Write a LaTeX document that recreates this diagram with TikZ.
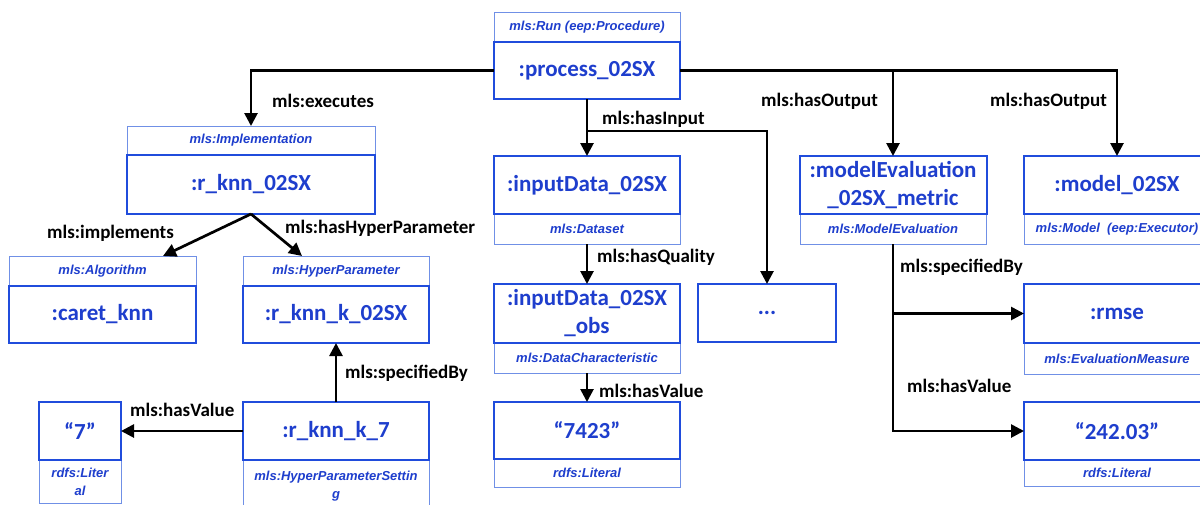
\documentclass[tikz,border=0pt]{standalone}
\usepackage{fontspec}
\setmainfont{Carlito}
\newfontfamily\typefont{Liberation Sans}
\usetikzlibrary{arrows.meta}
\definecolor{nodeblue}{RGB}{30,62,205}
\definecolor{edgeblue}{RGB}{32,76,220}
\definecolor{bandblue}{RGB}{112,144,230}

\begin{document}
\begin{tikzpicture}[x=1pt,y=-1pt,
  mainbox/.style={draw=edgeblue, line width=2pt, fill=white, inner sep=0pt, outer sep=0pt,
    text=nodeblue, font=\fontsize{23}{28}\selectfont\bfseries, align=center},
  typebox/.style={draw=bandblue, line width=1pt, fill=white, inner sep=0pt, outer sep=0pt,
    text=nodeblue, font=\typefont\fontsize{13}{18}\selectfont\bfseries\itshape, align=center},
  rel/.style={font=\fontsize{19}{21}\selectfont\bfseries, anchor=west, inner sep=0pt},
  arr/.style={line width=2.7pt, -{Triangle[length=13pt,width=13pt]}}
]
\useasboundingbox (0,0) rectangle (1200,504);
\clip (0,0) rectangle (1200,504);
\fill[white] (0,0) rectangle (1200,504);

% class bands
\node[typebox, minimum width=186pt, minimum height=30pt] (runT)  at (587,27) {mls:Run (eep:Procedure)};
\node[typebox, minimum width=248pt, minimum height=29pt] (implT) at (251,140.5) {mls:Implementation};
\node[typebox, minimum width=187pt, minimum height=30pt] (algT)  at (102.5,271) {mls:Algorithm};
\node[typebox, minimum width=186pt, minimum height=30pt] (hypT)  at (336,271) {mls:HyperParameter};
\node[typebox, minimum width=186pt, minimum height=52pt] (setT)  at (336,486) {mls:HyperParameterSettin\\g};
\node[typebox, minimum width=82pt,  minimum height=43pt] (sevT)  at (80,481.5) {rdfs:Liter\\al};
\node[typebox, minimum width=186pt, minimum height=30pt] (inpT)  at (587,229) {mls:Dataset};
\node[typebox, minimum width=186pt, minimum height=30pt] (obsT)  at (587,358) {mls:DataCharacteristic};
\node[typebox, minimum width=186pt, minimum height=28pt] (valT)  at (587,473) {rdfs:Literal};
\node[typebox, minimum width=186pt, minimum height=30pt] (meT)   at (893,229) {mls:ModelEvaluation};
\node[typebox, minimum width=186pt, minimum height=30pt] (modT)  at (1117,229) {mls:Model\ \ (eep:Executor)};
\node[typebox, minimum width=186pt, minimum height=31pt] (rmseT) at (1117,358.5) {mls:EvaluationMeasure};
\node[typebox, minimum width=186pt, minimum height=26pt] (numT)  at (1117,473) {rdfs:Literal};

% resources
\node[mainbox, minimum width=186pt, minimum height=57pt] (proc) at (587,70.5) {:process\_02SX};
\node[mainbox, minimum width=248pt, minimum height=59pt] (impl) at (251,184.5) {:r\_knn\_02SX};
\node[mainbox, minimum width=187pt, minimum height=57pt] (alg)  at (102.5,314.5) {:caret\_knn};
\node[mainbox, minimum width=186pt, minimum height=57pt] (hyp)  at (336,314.5) {:r\_knn\_k\_02SX};
\node[mainbox, minimum width=186pt, minimum height=58pt] (set)  at (336,431) {:r\_knn\_k\_7};
\node[mainbox, minimum width=82pt,  minimum height=58pt] (sev)  at (80,431) {“7”};
\node[mainbox, minimum width=186pt, minimum height=58pt] (inp)  at (587,185) {:inputData\_02SX};
\node[mainbox, minimum width=186pt, minimum height=59pt] (obs)  at (587,313.5) {:inputData\_02SX\\\_obs};
\node[mainbox, minimum width=186pt, minimum height=57pt] (val)  at (587,430.5) {“7423”};
\node[mainbox, minimum width=138pt, minimum height=58pt] (dots) at (767,313) {...};
\node[mainbox, minimum width=187pt, minimum height=58pt] (me)   at (893,185) {:modelEvaluation\\\_02SX\_metric};
\node[mainbox, minimum width=186pt, minimum height=58pt] (mod)  at (1117,185) {:model\_02SX};
\node[mainbox, minimum width=186pt, minimum height=59pt] (rmse) at (1117,313.5) {:rmse};
\node[mainbox, minimum width=186pt, minimum height=58pt] (num)  at (1117,431) {“242.03”};

% junction points
\coordinate (inFork) at (587,131);
\coordinate (outFork) at (893,70.5);
\coordinate (algIn) at (163,256);
\coordinate (hypIn) at (302,256);
\coordinate (specFork) at (893,313.5);

% connectors
\draw[arr] (proc.west) -| (implT.north);
\draw[arr] (proc.east) -| (mod.north);
\draw[arr] (outFork) -- (me.north);
\draw[arr] (proc.south) -- (inp.north);
\draw[arr] (inFork) -| (dots.north);
\draw[arr] (impl.south) -- (algIn);
\draw[arr] (impl.south) -- (hypIn);
\draw[arr] (set.north) -- (hyp.south);
\draw[arr] (set.west) -- (sev.east);
\draw[arr] (inpT.south) -- (obs.north);
\draw[arr] (obsT.south) -- (val.north);
\draw[arr] (meT.south) |- (num.west);
\draw[arr] (specFork) -- (rmse.west);

% property labels
\node[rel] (lExec)  at (272,101) {mls:executes};
\node[rel] (lOut1)  at (761,101) {mls:hasOutput};
\node[rel] (lOut2)  at (990,101) {mls:hasOutput};
\node[rel] (lIn)    at (602,119) {mls:hasInput};
\node[rel] (lImpl)  at (47,233) {mls:implements};
\node[rel] (lHyp)   at (285,228) {mls:hasHyperParameter};
\node[rel] (lQual)  at (597,257) {mls:hasQuality};
\node[rel] (lSpec1) at (345,373) {mls:specifiedBy};
\node[rel] (lVal1)  at (130,410) {mls:hasValue};
\node[rel] (lVal2)  at (599,391) {mls:hasValue};
\node[rel] (lSpec2) at (900,267) {mls:specifiedBy};
\node[rel] (lVal3)  at (907,386) {mls:hasValue};
\end{tikzpicture}
\end{document}
